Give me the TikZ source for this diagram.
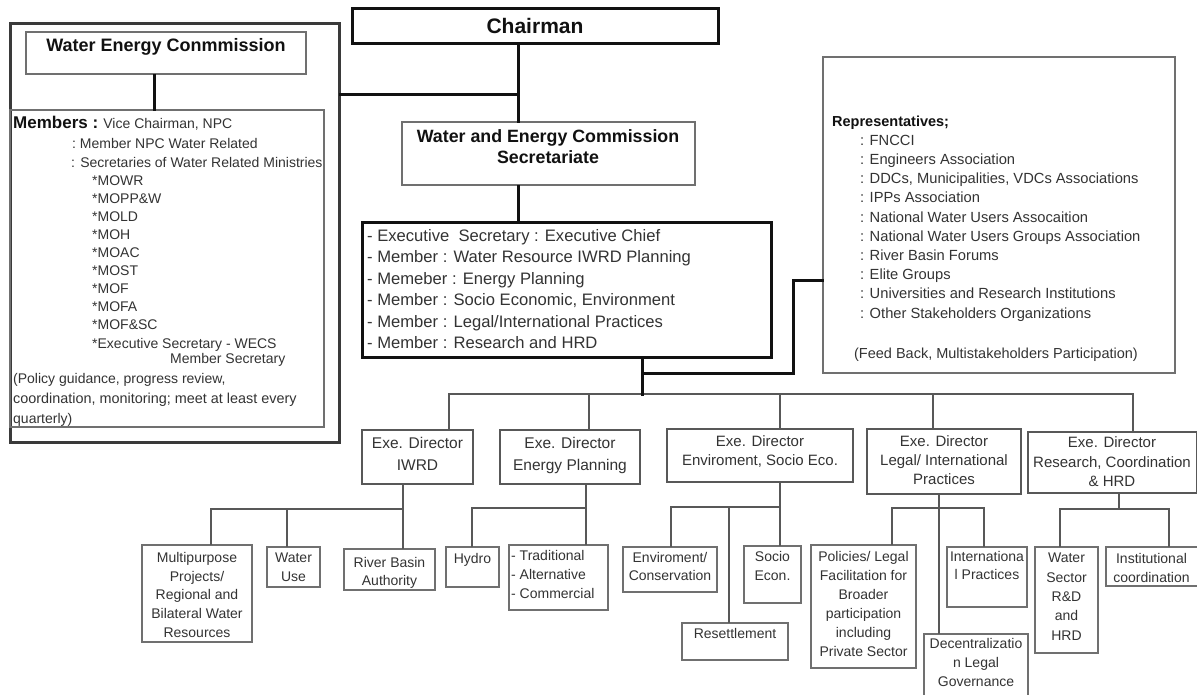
\documentclass[tikz,border=0pt]{standalone}
\usepackage{fontspec}
\setmainfont{Liberation Sans}
\newcommand{\fz}[2]{\fontsize{#1}{#2}\selectfont}
\definecolor{ink}{HTML}{111111}
\definecolor{txt}{HTML}{333333}
\definecolor{lg}{HTML}{707070}
\definecolor{mg}{HTML}{585858}
\definecolor{dg}{HTML}{3A3A3A}
\newcommand{\bx}[6]{\node[#6, minimum width={#4-#2}, minimum height={#5-#3}] (#1) at ({(#2+#4)/2},{(#3+#5)/2}) {};}
\begin{document}
\begin{tikzpicture}[x=1pt,y=-1pt,
  bxs/.style={draw, rectangle, inner sep=0pt},
  heavy/.style={bxs, line width=3pt, draw=ink},
  outerS/.style={bxs, line width=3pt, draw=dg},
  thinS/.style={bxs, line width=2pt, draw=lg},
  dirS/.style={bxs, line width=2pt, draw=mg},
  leafS/.style={bxs, line width=2pt, draw=lg},
  topc/.style={line width=3pt, draw=ink, line cap=rect},
  tree/.style={line width=2.2pt, draw=mg, line cap=rect},
  bt/.style={inner sep=0pt, text=ink},
  rt/.style={inner sep=0pt, text=txt},
  mline/.style={rt, anchor=base west, font=\fz{14}{18}},
  dirT/.style={rt, align=center, anchor=north},
  leafT/.style={rt, align=center, anchor=north}
]
\clip (0,0) rectangle (1197,694);
\fill[white] (0,0) rectangle (1197,694);

% ---------- boxes ----------
\bx{chair}{352}{8}{718}{43}{heavy}
\bx{outer}{10}{23}{339}{442}{outerS}
\bx{wec}{26}{32}{306}{74}{thinS}
\bx{mem}{10}{110}{324}{427}{thinS}
\bx{sec}{402}{122}{695}{185}{thinS}
\bx{exec}{362}{222}{771}{357}{heavy}
\bx{rep}{823}{57}{1175}{373}{thinS}

\bx{iwrd}{362}{430}{473}{484}{dirS}
\bx{enp}{500}{430}{640}{484}{dirS}
\bx{env}{667}{429}{853}{482}{dirS}
\bx{leg}{867}{429}{1021}{494}{dirS}
\bx{rch}{1028}{432}{1197}{493}{dirS}

\bx{mp}{142}{545}{252}{642}{leafS}
\bx{wu}{267}{547}{320}{587}{leafS}
\bx{rba}{344}{549}{435}{590}{leafS}
\bx{hyd}{446}{547}{499}{587}{leafS}
\bx{trad}{509}{545}{608}{610}{leafS}
\bx{ec}{623}{547}{717}{592}{leafS}
\bx{soc}{744}{546}{801}{603}{leafS}
\bx{rst}{682}{623}{788}{660}{leafS}
\bx{pol}{811}{545}{916}{668}{leafS}
\bx{intl}{947}{547}{1027}{607}{leafS}
\bx{dec}{924}{634}{1028}{705}{leafS}
\bx{wsr}{1035}{547}{1098}{653}{leafS}
\bx{inst}{1106}{547}{1199}{586}{leafS}

% ---------- top connectors ----------
\coordinate (j0) at (154,90);
\coordinate (j1) at (518,94);
\coordinate (j2) at (642,373);
\coordinate (j3) at (793,280);
\draw[topc] (wec.south -| j0) -- (mem.north -| j0);
\draw[topc] (chair.south -| j1) -- (sec.north -| j1);
\draw[topc] (outer.east |- j1) -- (j1);
\draw[topc] (sec.south -| j1) -- (exec.north -| j1);

% ---------- main bus ----------
\coordinate (b1) at (449,394);
\coordinate (b2) at (589,394);
\coordinate (b3) at (780,394);
\coordinate (b4) at (933,394);
\coordinate (b5) at (1133,394);
\draw[tree] (b1) -- (b5);
\foreach \b/\n in {b1/iwrd,b2/enp,b3/env,b4/leg,b5/rch}
  \draw[tree] (\b) -- (\n.north -| \b);
\draw[topc] (exec.south -| j2) -- (b1 -| j2);
\draw[topc] (j2) -| (j3) -- (rep.west |- j3);

% ---------- sub trees ----------
\coordinate (i1) at (211,509);
\coordinate (i2) at (287,509);
\coordinate (i3) at (403,509);
\draw[tree] (iwrd.south -| i3) -- (rba.north -| i3);
\draw[tree] (i1) -- (i3);
\draw[tree] (i1) -- (mp.north -| i1);
\draw[tree] (i2) -- (wu.north -| i2);

\coordinate (e1) at (472,508);
\coordinate (e2) at (586,508);
\draw[tree] (enp.south -| e2) -- (trad.north -| e2);
\draw[tree] (e1) -- (e2);
\draw[tree] (e1) -- (hyd.north -| e1);

\coordinate (v1) at (671,507);
\coordinate (v2) at (729,507);
\coordinate (v3) at (780,507);
\draw[tree] (env.south -| v3) -- (soc.north -| v3);
\draw[tree] (v1) -- (v3);
\draw[tree] (v1) -- (ec.north -| v1);
\draw[tree] (v2) -- (rst.north -| v2);

\coordinate (g1) at (892,508);
\coordinate (g2) at (939,508);
\coordinate (g3) at (984,508);
\draw[tree] (leg.south -| g2) -- (dec.north -| g2);
\draw[tree] (g1) -- (g3);
\draw[tree] (g1) -- (pol.north -| g1);
\draw[tree] (g3) -- (intl.north -| g3);

\coordinate (r1) at (1060,509);
\coordinate (r2) at (1119,509);
\coordinate (r3) at (1169,509);
\draw[tree] (rch.south -| r2) -- (r2);
\draw[tree] (r1) -- (r3);
\draw[tree] (r1) -- (wsr.north -| r1);
\draw[tree] (r3) -- (inst.north -| r3);

% ---------- texts ----------
\node[bt, font=\bfseries\fz{21}{24}] (chairT) at (535,26) {Chairman};
\node[bt, font=\bfseries\fz{18}{21}, anchor=base] (wecT) at (166,51.5) {Water Energy Conmmission};
\node[bt, font=\bfseries\fz{17.8}{21}, align=center, anchor=north] (secT) at (548,129.6) {Water and Energy Commission\\Secretariate};

\node[mline] (m1) at (13,128) {{\bfseries\fz{17}{18}\color{ink}Members :} Vice Chairman, NPC};
\node[mline] (m2) at (72,148) {:\ Member NPC Water Related};
\node[mline] (m3) at (71,167) {: Secretaries of Water Related Ministries};
\foreach \t [count=\i] in {MOWR,MOPP\&W,MOLD,MOH,MOAC,MOST,MOF,MOFA,MOF\&SC}
  \node[mline] (mm\i) at (92,{185+18*(\i-1)}) {*\t};
\node[mline] (m13) at (92,348) {*Executive Secretary - WECS};
\node[mline] (m14) at (170,363) {Member Secretary};
\node[mline] (m15) at (13,383) {(Policy guidance, progress review,};
\node[mline, font=\fz{14.4}{18}] (m16) at (13,403) {coordination, monitoring; meet at least every};
\node[mline] (m17) at (13,423) {quarterly)};

\node[rt, font=\fz{16.6}{21.5}, align=left, anchor=north west] (execT) at (367,229)
  {- Executive\ \ Secretary : Executive Chief\\
   - Member : Water Resource IWRD Planning\\
   - Memeber : Energy Planning\\
   - Member : Socio Economic, Environment\\
   - Member : Legal/International Practices\\
   - Member : Research and HRD};

\node[bt, font=\bfseries\fz{14.5}{17}, anchor=base west] (repH) at (832,126) {Representatives;};
\node[rt, font=\fz{14.7}{19.2}, align=left, anchor=north west] (repL) at (860,134.8)
  {: FNCCI\\
   : Engineers Association\\
   : DDCs, Municipalities, VDCs Associations\\
   : IPPs Association\\
   : National Water Users Assocaition\\
   : National Water Users Groups Association\\
   : River Basin Forums\\
   : Elite Groups\\
   : Universities and Research Institutions\\
   : Other Stakeholders Organizations};
\node[rt, font=\fz{14.5}{17}, anchor=base] (repF) at (996,358) {(Feed Back, Multistakeholders Participation)};

\node[dirT, font=\fz{15.5}{21.7}] (iwrdT) at (417.5,437.4) {Exe. Director\\IWRD};
\node[dirT, font=\fz{15.5}{21.7}] (enpT) at (570,437.4) {Exe. Director\\Energy Planning};
\node[dirT, font=\fz{15}{19}] (envT) at (760,435.6) {Exe. Director\\Enviroment, Socio Eco.};
\node[dirT, font=\fz{15}{19}] (legT) at (944,435.6) {Exe. Director\\Legal/ International\\Practices};
\node[dirT, font=\fz{15}{19.5}] (rchT) at (1112,436.6) {Exe. Director\\Research, Coordination\\\& HRD};

\node[leafT, font=\fz{14}{18.7}] (mpT) at (197,552) {Multipurpose\\Projects/\\Regional and\\Bilateral Water\\Resources};
\node[leafT, font=\fz{14}{19}] (wuT) at (293.5,553) {Water\\Use};
\node[leafT, font=\fz{14}{18}] (rbaT) at (389.5,557) {River Basin\\Authority};
\node[leafT, font=\fz{14}{19}] (hydT) at (472.5,553) {Hydro};
\node[rt, font=\fz{14}{19}, align=left, anchor=north west] (tradT) at (511,550) {- Traditional\\- Alternative\\- Commercial};
\node[leafT, font=\fz{14}{18}] (ecT) at (670,552) {Enviroment/\\Conservation};
\node[leafT, font=\fz{14}{19.5}] (socT) at (772.5,551) {Socio\\Econ.};
\node[leafT, font=\fz{14}{19}] (rstT) at (735,628) {Resettlement};
\node[leafT, font=\fz{14}{19}] (polT) at (863.5,551) {Policies/ Legal\\Facilitation for\\Broader\\participation\\including\\Private Sector};
\node[leafT, font=\fz{14}{18}] (intlT) at (987,551) {Internationa\\l Practices};
\node[leafT, font=\fz{14}{19}] (decT) at (976,638) {Decentralizatio\\n Legal\\Governance};
\node[leafT, font=\fz{14}{19.3}] (wsrT) at (1066.5,553) {Water\\Sector\\R\&D\\and\\HRD};
\node[leafT, font=\fz{14}{19}] (instT) at (1151.5,553) {Institutional\\coordination};
\end{tikzpicture}
\end{document}
